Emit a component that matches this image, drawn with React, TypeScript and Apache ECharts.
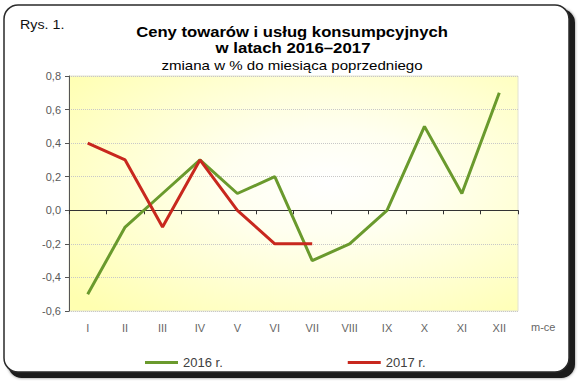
import React, { useEffect, useRef } from "react";
import * as echarts from "echarts";

const months = ["I", "II", "III", "IV", "V", "VI", "VII", "VIII", "IX", "X", "XI", "XII"];
const values2016 = [-0.5, -0.1, 0.1, 0.3, 0.1, 0.2, -0.3, -0.2, 0.0, 0.5, 0.1, 0.7];
const values2017 = [0.4, 0.3, -0.1, 0.3, 0.0, -0.2, -0.2];
const seriesNames = ["2016 r.", "2017 r."];

export default function App() {
  const ref = useRef<HTMLDivElement>(null);
  useEffect(() => {
    if (!ref.current) return;
    const chart = echarts.init(ref.current, null, { renderer: "svg" });
    const font = "'Liberation Sans', Arial, sans-serif";
    chart.setOption({
      animation: false,
      backgroundColor: "#ffffff",
      textStyle: { fontFamily: font },
      graphic: [
        {
          type: "rect",
          z: -10,
          silent: true,
          shape: { x: 8, y: 9, width: 567, height: 369, r: 14 },
          style: { fill: "#1a1a1a", shadowBlur: 3, shadowColor: "rgba(0,0,0,0.5)" },
        },
        {
          type: "rect",
          z: -9,
          silent: true,
          shape: { x: 4, y: 5, width: 565, height: 367, r: 14 },
          style: { fill: "#ffffff", stroke: "#2a2a2a", lineWidth: 1.5 },
        },
        {
          type: "text",
          x: 20,
          y: 18,
          scaleX: 1.1,
          style: { text: "Rys. 1.", fontSize: 13, fontFamily: font, fill: "#111" },
        },
        {
          type: "text",
          x: 292,
          y: 25,
          scaleX: 1.19,
          style: {
            text: "Ceny towarów i usług konsumpcyjnych",
            fontSize: 14,
            fontWeight: "bold",
            fontFamily: font,
            fill: "#000",
            align: "center",
          },
        },
        {
          type: "text",
          x: 293,
          y: 41,
          scaleX: 1.2,
          style: {
            text: "w latach 2016–2017",
            fontSize: 14,
            fontWeight: "bold",
            fontFamily: font,
            fill: "#000",
            align: "center",
          },
        },
        {
          type: "text",
          x: 292,
          y: 59,
          scaleX: 1.16,
          style: {
            text: "zmiana w % do miesiąca poprzedniego",
            fontSize: 13,
            fontFamily: font,
            fill: "#000",
            align: "center",
          },
        },
        {
          type: "text",
          x: 531,
          y: 321,
          style: { text: "m-ce", fontSize: 11, fontFamily: font, fill: "#666" },
        },
      ],
      grid: {
        left: 69,
        top: 76,
        width: 449,
        height: 235,
        show: true,
        borderColor: "#e2e2d0",
        borderWidth: 1,
        backgroundColor: new echarts.graphic.RadialGradient(0.58, 0.45, 0.75, [
          { offset: 0, color: "#ffffff" },
          { offset: 0.3, color: "#fffff0" },
          { offset: 1, color: "#ffffb0" },
        ]),
      },
      legend: {
        left: 140,
        top: 351,
        itemGap: 125,
        itemWidth: 33,
        itemHeight: 3,
        icon: "rect",
        textStyle: { fontSize: 13, color: "#404040", fontFamily: font },
        data: seriesNames,
      },
      xAxis: [
        {
          type: "category",
          data: months,
          boundaryGap: true,
          axisLine: { onZero: true, lineStyle: { color: "#333", width: 1 } },
          axisTick: { show: true, length: 4, lineStyle: { color: "#333" } },
          axisLabel: { show: false },
          splitLine: { show: false },
        },
        {
          type: "category",
          data: months,
          position: "bottom",
          boundaryGap: true,
          axisLine: { show: false, onZero: false },
          axisTick: { show: false },
          axisLabel: { show: true, margin: 11, fontSize: 11, color: "#666", fontFamily: font },
          splitLine: { show: false },
        },
      ],
      yAxis: {
        type: "value",
        min: -0.6,
        max: 0.8,
        interval: 0.2,
        axisLine: { show: true, lineStyle: { color: "#555" } },
        axisTick: { show: true, length: 4, lineStyle: { color: "#555" } },
        axisLabel: {
          fontSize: 11,
          color: "#595959",
          margin: 8,
          fontFamily: font,
          formatter: (v: number) => v.toFixed(1).replace(".", ",").replace("-0,0", "0,0"),
        },
        splitLine: { show: true, lineStyle: { color: "#c8c8c8", type: "dotted" } },
      },
      series: [
        {
          name: seriesNames[0],
          type: "line",
          data: values2016,
          xAxisIndex: 0,
          symbol: "none",
          lineStyle: { color: "#6a9a2d", width: 3 },
          itemStyle: { color: "#6a9a2d" },
        },
        {
          name: seriesNames[1],
          type: "line",
          data: values2017,
          xAxisIndex: 0,
          symbol: "none",
          lineStyle: { color: "#c8281e", width: 3 },
          itemStyle: { color: "#c8281e" },
        },
      ],
    });
    return () => chart.dispose();
  }, []);
  return <div ref={ref} style={{ width: 580, height: 384, position: "absolute", left: 0, top: 0 }} />;
}
